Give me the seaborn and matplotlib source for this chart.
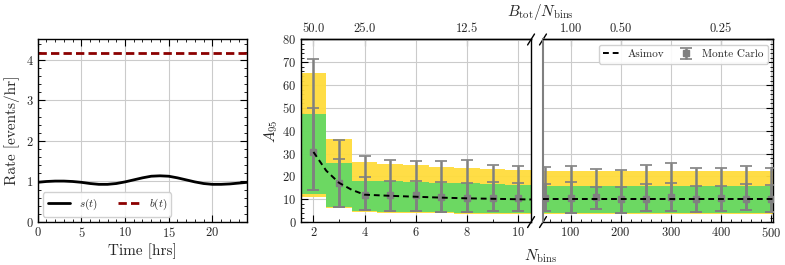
import numpy as np
import pandas as pd
import matplotlib
matplotlib.use("Agg")
import matplotlib.pyplot as plt
import seaborn as sns
from matplotlib.ticker import MultipleLocator, FixedLocator

# ---- data ----
t_hrs = [0, 1, 2, 3, 4, 5, 6, 7, 8, 9, 10, 11, 12, 13, 14, 15, 16, 17, 18, 19, 20, 21, 22, 23, 24]
s_rate = [0.98, 1.00, 1.01, 1.01, 1.00, 0.98, 0.95, 0.93, 0.93, 0.95, 0.99, 1.04, 1.09,
          1.13, 1.14, 1.13, 1.09, 1.04, 0.99, 0.95, 0.93, 0.93, 0.94, 0.96, 0.98]
b_rate = [4.16] * len(t_hrs)

B_TOT = 100.0

# low number of bins
n_lo = [2, 3, 4, 5, 6, 7, 8, 9, 10]
band2_hi_lo = [65.5, 36.5, 26.2, 25.6, 25.0, 24.2, 23.6, 23.2, 22.8]
band1_hi_lo = [47.5, 25.7, 18.2, 17.9, 17.5, 17.2, 16.9, 16.6, 16.4]
band1_lo_lo = [12.3, 6.6, 4.8, 4.5, 4.3, 4.2, 4.1, 4.0, 4.0]
band2_lo_lo = [11.2, 6.0, 4.3, 4.1, 3.9, 3.8, 3.7, 3.6, 3.6]
mc_lo = [30.7, 17.0, 12.0, 11.9, 11.8, 10.9, 10.4, 10.4, 10.6]
mc_hi2_lo = [71.3, 35.8, 29.1, 27.3, 26.7, 26.6, 27.0, 25.0, 24.5]
mc_hi1_lo = [49.8, 27.5, 19.7, 18.2, 18.1, 17.6, 17.3, 17.5, 16.9]
mc_low_lo = [14.1, 6.8, 5.3, 5.0, 4.9, 4.6, 4.6, 4.9, 4.9]
asimov_n_lo = [2, 2.5, 3, 3.5, 4, 5, 6, 7, 8, 9, 10, 10.5]
asimov_lo = [30.7, 22.5, 17.2, 14.1, 12.0, 11.5, 11.1, 10.7, 10.4, 10.2, 10.0, 9.9]

# high number of bins
n_hi = [50, 100, 150, 200, 250, 300, 350, 400, 450, 500]
band2_hi_hi = [22.2] * 10
band1_hi_hi = [15.7] * 10
band1_lo_hi = [4.1] * 10
band2_lo_hi = [3.5] * 10
mc_hi = [10.6, 10.6, 10.9, 10.0, 10.3, 11.0, 10.0, 10.6, 10.3, 10.3]
mc_hi2_hi = [24.0, 24.7, 23.1, 22.8, 25.0, 25.8, 23.5, 23.8, 24.5, 23.6]
mc_hi1_hi = [16.8, 17.5, 15.3, 15.4, 16.5, 16.9, 16.0, 16.0, 16.5, 16.2]
mc_low_hi = [4.8, 4.1, 5.6, 4.1, 4.7, 4.8, 4.6, 4.8, 5.1, 4.5]
asimov_hi = [10.0, 10.0, 10.0, 10.0, 10.0, 10.0, 10.0, 10.0, 10.0, 10.0]

YELLOW = "#ffdc3c"
GREEN = "#64d864"
GREY = "#808080"

sns.set_theme(style="ticks")
plt.rcParams['font.family'] = ['cmr10', 'DejaVu Serif']
plt.rcParams['mathtext.fontset'] = 'cm'
plt.rcParams['axes.formatter.use_mathtext'] = True
plt.rcParams['axes.unicode_minus'] = False
plt.rcParams['xtick.direction'] = 'in'
plt.rcParams['ytick.direction'] = 'in'
plt.rcParams['axes.edgecolor'] = 'black'
plt.rcParams['axes.linewidth'] = 1.0

fig = plt.figure(figsize=(7.85, 2.65), dpi=100)
ax0 = fig.add_axes([0.048, 0.162, 0.267, 0.689])
ax1 = fig.add_axes([0.383, 0.162, 0.2935, 0.689])
ax2 = fig.add_axes([0.6917, 0.162, 0.2935, 0.689])

def style_ticks(ax):
    ax.tick_params(which='major', length=5, width=0.8, labelsize=9, color='black', pad=3)
    ax.tick_params(which='minor', length=2.5, width=0.6, color='black')
    ax.grid(True, which='major', color='#cbcbcb', lw=0.8)
    ax.set_axisbelow(True)

# ---- left panel: rates ----
df_rate = pd.DataFrame({"t": t_hrs, "s": s_rate, "b": b_rate})
sns.lineplot(data=df_rate, x="t", y="s", ax=ax0, color="black", lw=2, label="$s(t)$")
sns.lineplot(data=df_rate, x="t", y="b", ax=ax0, color="#8b0000", lw=2,
             linestyle=(0, (3, 1.5)), label="$b(t)$")
ax0.set_xlim(0, 24)
ax0.set_ylim(0, 4.5)
ax0.xaxis.set_major_locator(MultipleLocator(5))
ax0.xaxis.set_minor_locator(MultipleLocator(1))
ax0.yaxis.set_major_locator(MultipleLocator(1))
ax0.yaxis.set_minor_locator(MultipleLocator(0.2))
style_ticks(ax0)
ax0.tick_params(which='both', top=True, right=True)
ax0.set_xlabel("Time [hrs]", fontsize=11, labelpad=2)
ax0.set_ylabel("Rate [events/hr]", fontsize=11, labelpad=4)
ax0.legend(loc='lower left', ncol=2, fontsize=8, frameon=True, fancybox=True,
           handlelength=2.0, columnspacing=1.8, borderpad=0.4, edgecolor='#cccccc',
           framealpha=0.9)

# ---- middle / right panels ----
def step_band(ax, n, lo, hi, color):
    edges = [v - 0.5 for v in n] + [n[-1] + 0.5]
    ax.fill_between(edges, list(lo) + [lo[-1]], list(hi) + [hi[-1]], step='post',
                    color=color, lw=0, alpha=0.95, zorder=1)

def mc_bars(ax, n, mid, low, hi1, hi2, label=None):
    mid = np.array(mid)
    ax.errorbar(n, mid, yerr=[mid - np.array(low), np.array(hi2) - mid], fmt='s',
                color=GREY, ms=4.5, capsize=4.3, elinewidth=1.8, capthick=1.2, zorder=4,
                label=label)
    ax.errorbar(n, mid, yerr=[mid - np.array(low), np.array(hi1) - mid], fmt='none',
                ecolor=GREY, capsize=4.3, elinewidth=1.8, capthick=1.2, zorder=4)

step_band(ax1, n_lo, band2_lo_lo, band2_hi_lo, YELLOW)
step_band(ax1, n_lo, band1_lo_lo, band1_hi_lo, GREEN)
mc_bars(ax1, n_lo, mc_lo, mc_low_lo, mc_hi1_lo, mc_hi2_lo)
df_as_lo = pd.DataFrame({"n": asimov_n_lo, "a": asimov_lo})
sns.lineplot(data=df_as_lo, x="n", y="a", ax=ax1, color="black", lw=1.4,
             linestyle=(0, (3, 2)), zorder=5)

edges_hi = [25] + [v + 25 for v in n_hi]
ax2.fill_between(edges_hi, band2_lo_hi + [band2_lo_hi[-1]], band2_hi_hi + [band2_hi_hi[-1]],
                 step='post', color=YELLOW, lw=0, alpha=0.95, zorder=1)
ax2.fill_between(edges_hi, band1_lo_hi + [band1_lo_hi[-1]], band1_hi_hi + [band1_hi_hi[-1]],
                 step='post', color=GREEN, lw=0, alpha=0.95, zorder=1)
mc_bars(ax2, n_hi, mc_hi, mc_low_hi, mc_hi1_hi, mc_hi2_hi, label="Monte Carlo")
df_as_hi = pd.DataFrame({"n": [45] + n_hi + [505], "a": [asimov_hi[0]] + asimov_hi + [asimov_hi[-1]]})
sns.lineplot(data=df_as_hi, x="n", y="a", ax=ax2, color="black", lw=1.4,
             linestyle=(0, (3, 2)), zorder=5, label="Asimov")

for ax in (ax1, ax2):
    ax.set_ylim(0, 80)
    ax.yaxis.set_major_locator(MultipleLocator(10))
    ax.yaxis.set_minor_locator(MultipleLocator(2))
    style_ticks(ax)
    ax.set_xlabel("")
    ax.set_ylabel("")

ax1.set_xlim(1.5, 10.5)
ax1.xaxis.set_major_locator(MultipleLocator(2))
ax1.xaxis.set_minor_locator(MultipleLocator(1))
ax1.tick_params(which='both', top=False, right=False)
ax1.set_ylabel("$A_{95}$", fontsize=11, labelpad=2)

ax2.set_xlim(45, 505)
ax2.xaxis.set_major_locator(MultipleLocator(100))
ax2.xaxis.set_minor_locator(MultipleLocator(20))
ax2.tick_params(which='both', top=False, left=False, right=True, labelleft=False)
ax2.spines['left'].set_color(GREY)
ax2.spines['left'].set_linewidth(1.5)

# top axes: B_tot / N_bins
def fwd(n):
    return B_TOT / np.maximum(n, 1e-9)

sec1 = ax1.secondary_xaxis('top', functions=(fwd, fwd))
sec1.xaxis.set_major_locator(FixedLocator([50.0, 25.0, 12.5]))
sec1.set_xticklabels(["50.0", "25.0", "12.5"])
sec1.xaxis.set_minor_locator(FixedLocator([]))
sec1.tick_params(direction='in', length=5, width=0.8, labelsize=9, pad=3)

sec2 = ax2.secondary_xaxis('top', functions=(fwd, fwd))
sec2.xaxis.set_major_locator(FixedLocator([1.0, 0.5, 0.25]))
sec2.set_xticklabels(["1.00", "0.50", "0.25"])
sec2.xaxis.set_minor_locator(FixedLocator([]))
sec2.tick_params(direction='in', length=5, width=0.8, labelsize=9, pad=3)

# break marks
d = 0.015
kw = dict(color='black', clip_on=False, lw=1.0)
ax1.plot((1 - d, 1 + d), (-2 * d, 2 * d), transform=ax1.transAxes, **kw)
ax1.plot((1 - d, 1 + d), (1 - 2 * d, 1 + 2 * d), transform=ax1.transAxes, **kw)
ax2.plot((-d, d), (-2 * d, 2 * d), transform=ax2.transAxes, **kw)
ax2.plot((-d, d), (1 - 2 * d, 1 + 2 * d), transform=ax2.transAxes, **kw)

h, l = ax2.get_legend_handles_labels()
order = [l.index("Asimov"), l.index("Monte Carlo")]
ax2.legend([h[i] for i in order], [l[i] for i in order], loc='upper right', ncol=2,
           fontsize=8, frameon=True, fancybox=True, edgecolor='#cccccc', framealpha=0.9,
           handlelength=1.6, handletextpad=0.6, columnspacing=1.2, borderpad=0.4)
if ax1.get_legend() is not None:
    ax1.get_legend().remove()

fig.text(0.688, 0.035, "$N_{\\rm bins}$", ha='center', va='center', fontsize=11)
fig.text(0.688, 0.955, "$B_{\\rm tot}/N_{\\rm bins}$", ha='center', va='center', fontsize=11)

fig.savefig("out.png", dpi=100)
